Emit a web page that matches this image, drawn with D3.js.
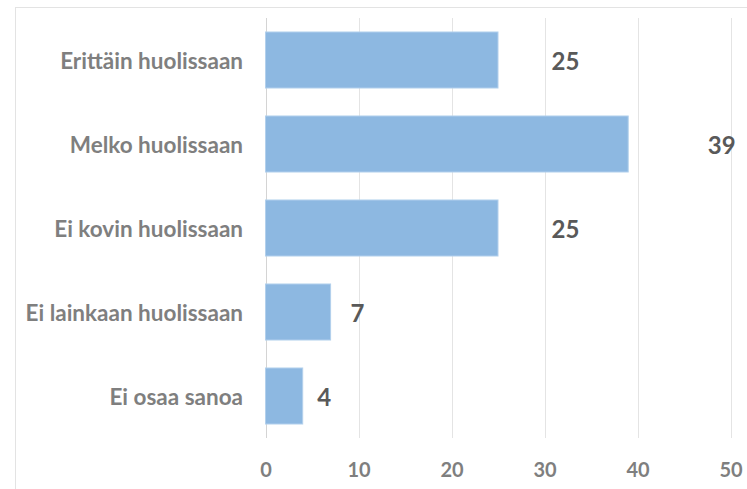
<!DOCTYPE html>
<html>
<head>
<meta charset="utf-8">
<script src="https://cdn.jsdelivr.net/npm/d3@7"></script>
<style>
  body { margin: 0; background: #fff; }
  text { font-family: Lato, "Open Sans", sans-serif; font-weight: bold; }
</style>
</head>
<body>
<div id="chart"></div>
<script>
// data
var categories = ["Erittäin huolissaan", "Melko huolissaan", "Ei kovin huolissaan", "Ei lainkaan huolissaan", "Ei osaa sanoa"];
var values = [25, 39, 25, 7, 4];
var ticks = [0, 10, 20, 30, 40, 50];

var w = 747, h = 489;

var svg = d3.select("#chart").append("svg")
  .attr("width", w)
  .attr("height", h);

// outer frame (cut off at right and bottom)
svg.append("rect")
  .attr("x", 15.5).attr("y", 7.5)
  .attr("width", w).attr("height", h)
  .attr("fill", "none")
  .attr("stroke", "#e3e3e3");

var x = d3.scaleLinear()
  .domain([0, 50])
  .range([265.5, 730.5]);

var y = d3.scaleBand()
  .domain(categories)
  .range([18, 438])
  .paddingInner(0.333)
  .paddingOuter(0.1665);

// gridlines
svg.append("g").selectAll("line")
  .data(ticks)
  .enter().append("line")
  .attr("x1", d => Math.round(x(d)) + 0.5)
  .attr("x2", d => Math.round(x(d)) + 0.5)
  .attr("y1", 18)
  .attr("y2", 438)
  .attr("stroke", d => d === 0 ? "#d4d4d4" : "#e4e4e4");

// x tick labels
var xAxis = d3.axisBottom(x).tickValues(ticks).tickSize(0).tickPadding(0);
var gx = svg.append("g")
  .attr("transform", "translate(0,470)")
  .call(xAxis);
gx.select(".domain").remove();
gx.selectAll("text")
  .attr("dy", "0.35em")
  .attr("fill", "#7f7f7f")
  .attr("font-size", 20);

// category labels
var yAxis = d3.axisLeft(y).tickSize(0).tickPadding(0);
var gy = svg.append("g")
  .attr("transform", "translate(243,0)")
  .call(yAxis);
gy.select(".domain").remove();
gy.selectAll("text")
  .attr("dy", "0.38em")
  .attr("fill", "#7f7f7f")
  .attr("font-size", 22.5);

// bars
svg.append("g").selectAll("rect")
  .data(values)
  .enter().append("rect")
  .attr("x", x(0))
  .attr("y", (d, i) => y(categories[i]))
  .attr("width", d => x(d) - x(0))
  .attr("height", y.bandwidth())
  .attr("fill", "#8db8e1")
  .attr("stroke", "#b3d0ec")
  .attr("stroke-width", 1);

// value labels
svg.append("g").selectAll("text")
  .data(values)
  .enter().append("text")
  .attr("x", d => x(d * 1.2) + 7)
  .attr("y", (d, i) => y(categories[i]) + y.bandwidth() / 2 + 2)
  .attr("dy", "0.35em")
  .attr("fill", "#595959")
  .attr("font-size", 24)
  .text(d => d);
</script>
</body>
</html>
